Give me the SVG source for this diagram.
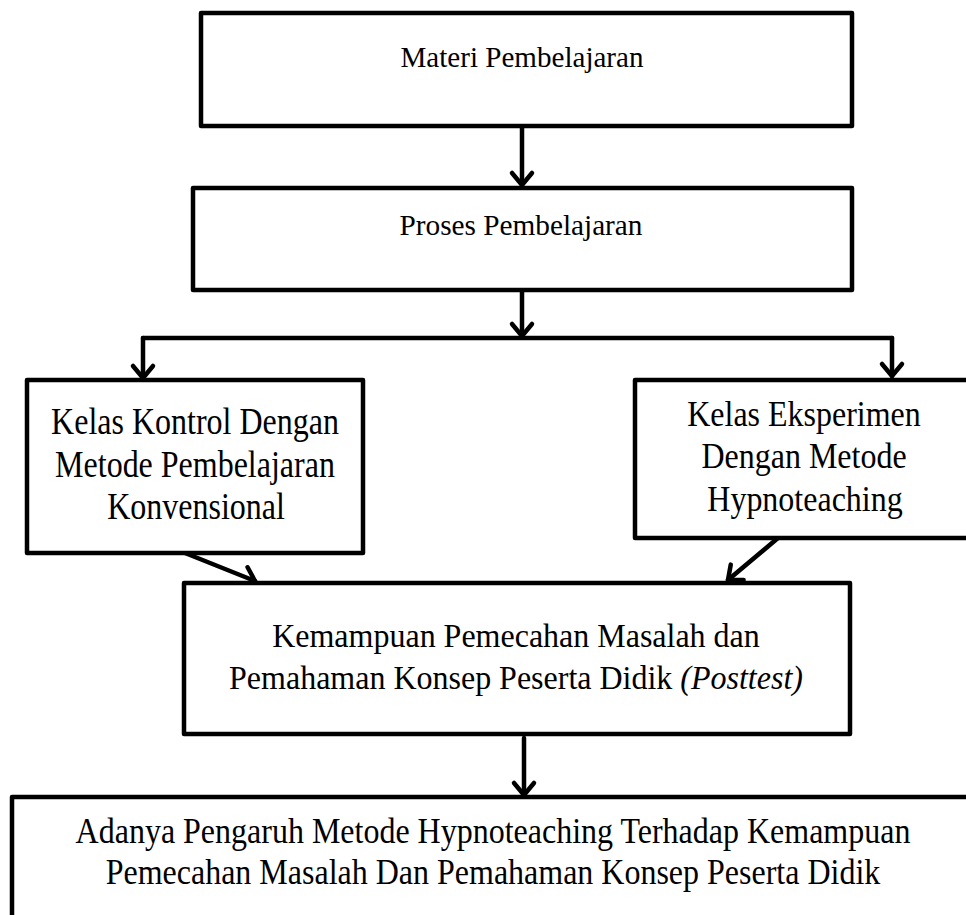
<svg xmlns="http://www.w3.org/2000/svg" width="966" height="915" viewBox="0 0 966 915">
<defs>
<style>
.box{fill:#fff;stroke:#000;stroke-width:4.5;stroke-linejoin:round}
.con{fill:none;stroke:#000;stroke-width:4.5;stroke-linecap:round}
.t{font-family:"Liberation Serif","Times New Roman",serif;fill:#000;text-anchor:middle}
</style>
<marker id="ah" markerUnits="userSpaceOnUse" viewBox="-16 -14 20 28" refX="0" refY="0" markerWidth="20" markerHeight="28" orient="auto" overflow="visible">
<path d="M-12,-10 L0,0 L-12,10" fill="none" stroke="#000" stroke-width="4.5" stroke-linecap="round" stroke-linejoin="round"/>
</marker>
</defs>
<rect width="966" height="915" fill="#fff"/>
<g id="connectors">
<path class="con" d="M522,126 L522,185" marker-end="url(#ah)"/>
<path class="con" d="M522,290 L522,336" marker-end="url(#ah)"/>
<path class="con" d="M143,338 L892,338"/>
<path class="con" d="M143,338 L143,378" marker-end="url(#ah)"/>
<path class="con" d="M892,338 L892,376" marker-end="url(#ah)"/>
<path class="con" d="M185,553 L255,581" marker-end="url(#ah)"/>
<path class="con" d="M778,538 L728,580" marker-end="url(#ah)"/>
<path class="con" d="M524,738 L524,795" marker-end="url(#ah)"/>
</g>
<g id="n1">
<rect class="box" x="201" y="13" width="651" height="113"/>
<text class="t" x="522" y="67" font-size="30" textLength="243" lengthAdjust="spacingAndGlyphs">Materi Pembelajaran</text>
</g>
<g id="n2">
<rect class="box" x="193" y="188" width="659" height="102"/>
<text class="t" x="521" y="235" font-size="30" textLength="243" lengthAdjust="spacingAndGlyphs">Proses Pembelajaran</text>
</g>
<g id="n3">
<rect class="box" x="27" y="380" width="336" height="173"/>
<text class="t" font-size="32" transform="translate(195,434) scale(1,1.17)">Kelas Kontrol Dengan</text>
<text class="t" font-size="32" transform="translate(195,477) scale(1,1.17)">Metode Pembelajaran</text>
<text class="t" font-size="32" transform="translate(196,519) scale(1,1.17)">Konvensional</text>
</g>
<g id="n4">
<path class="box" d="M966,380 L635,380 L635,538 L966,538"/>
<text class="t" font-size="32" transform="translate(804,426) scale(1,1.1)">Kelas Eksperimen</text>
<text class="t" font-size="32" transform="translate(804,468) scale(1,1.1)">Dengan Metode</text>
<text class="t" font-size="32" transform="translate(805,511) scale(1,1.1)">Hypnoteaching</text>
</g>
<g id="n5">
<rect class="box" x="184" y="583" width="666" height="151"/>
<text class="t" font-size="32" transform="translate(516,647) scale(1,1.03)">Kemampuan Pemecahan Masalah dan</text>
<text class="t" font-size="32" transform="translate(516,689) scale(1,1.03)">Pemahaman Konsep Peserta Didik <tspan font-style="italic">(Posttest)</tspan></text>
</g>
<g id="n6">
<path class="box" d="M966,797 L12,797 L12,915"/>
<text class="t" font-size="32" transform="translate(493,843) scale(1,1.1)">Adanya Pengaruh Metode Hypnoteaching Terhadap Kemampuan</text>
<text class="t" font-size="32" transform="translate(493,884) scale(1,1.1)">Pemecahan Masalah Dan Pemahaman Konsep Peserta Didik</text>
</g>
</svg>
